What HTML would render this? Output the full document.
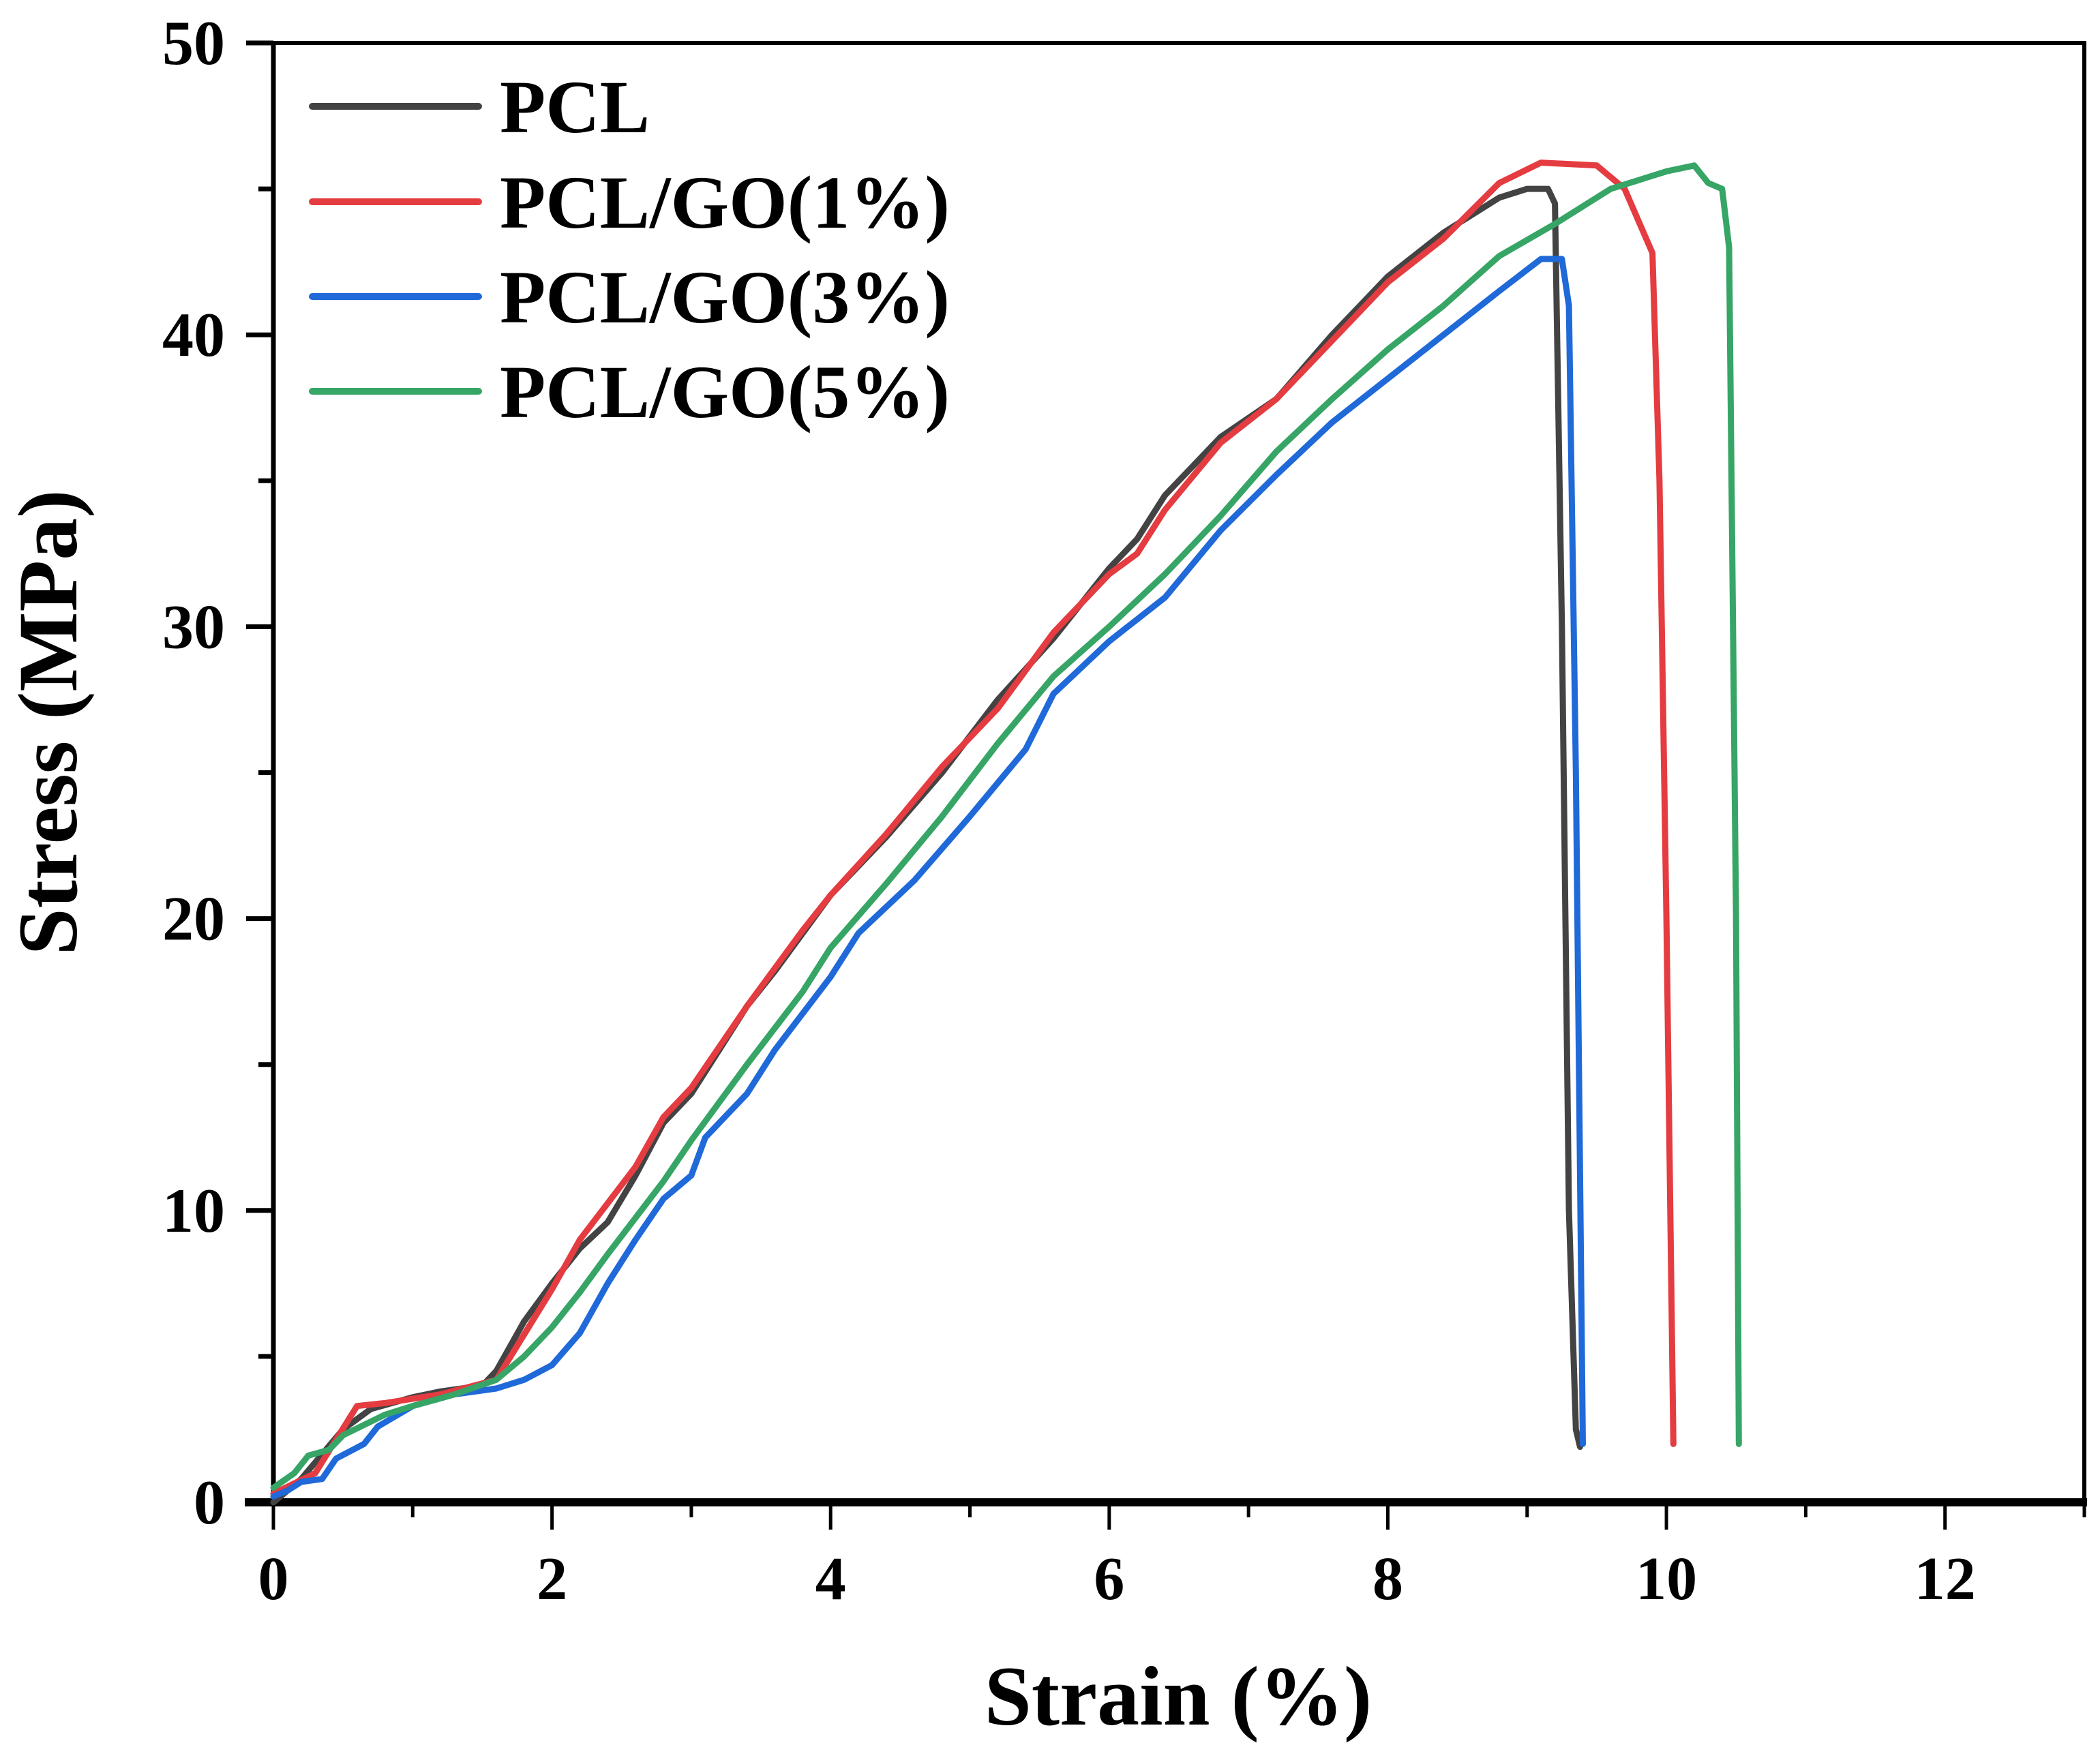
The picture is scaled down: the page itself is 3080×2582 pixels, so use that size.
<!DOCTYPE html>
<html><head><meta charset="utf-8"><style>
html,body{margin:0;padding:0;background:#fff;}
svg{display:block;font-family:"Liberation Serif","Times New Roman",serif;font-weight:bold;}
</style></head><body>
<svg id="chart" width="3080" height="2582" viewBox="0 0 3080 2582" xmlns="http://www.w3.org/2000/svg">
<g id="axes"></g>
<g id="series"></g>
<g id="legend"></g>
<text x="1728" y="2530" font-size="124" text-anchor="middle">Strain (%)</text>
<text x="0" y="0" font-size="124" text-anchor="middle" transform="translate(112,1060) rotate(-90)">Stress (MPa)</text>
</svg>
<script>
const xTicks = [0,2,4,6,8,10,12];
const yTicks = [0,10,20,30,40,50];
const seriesNames = ["PCL","PCL/GO(1%)","PCL/GO(3%)","PCL/GO(5%)"];
const seriesColors = ["#434343","#e43c40","#1f69d9","#36a566"];
const pclX = [0,0.2,0.5,0.7,1,1.2,1.5,1.6,1.8,2,2.2,2.4,2.6,2.8,3,3.2,3.4,3.6,3.8,4,4.4,4.8,5.2,5.6,6,6.2,6.4,6.8,7.2,7.6,8,8.4,8.8,9.0,9.15,9.2,9.25,9.3,9.35,9.38];
const pclY = [0,0.8,2.5,3.2,3.6,3.8,4.0,4.5,6.2,7.5,8.7,9.6,11.2,13,14,15.5,17,18.2,19.5,20.8,22.8,25,27.5,29.6,32,33,34.5,36.5,37.8,40,42,43.5,44.7,45.0,45.0,44.5,30,10,2.5,1.9];
const go1X = [0,0.3,0.6,0.8,1.2,1.6,2,2.2,2.6,2.8,3,3.4,3.8,4,4.4,4.8,5.2,5.6,6,6.2,6.4,6.8,7.2,7.6,8,8.4,8.8,9.1,9.5,9.7,9.9,9.95,10.0,10.05];
const go1Y = [0.3,1,3.3,3.4,3.7,4.2,7.3,9,11.5,13.2,14.2,17,19.6,20.8,22.9,25.2,27.2,29.8,31.8,32.5,34,36.3,37.8,39.8,41.8,43.3,45.2,45.9,45.8,45,42.8,35,20,2];
const go3X = [0,0.1,0.2,0.35,0.45,0.65,0.75,1,1.3,1.6,1.8,2,2.2,2.4,2.6,2.8,3,3.1,3.4,3.6,4,4.2,4.6,5,5.4,5.6,6,6.4,6.8,7.2,7.6,8,8.4,8.8,9.1,9.25,9.3,9.35,9.4];
const go3Y = [0.2,0.4,0.7,0.8,1.5,2,2.6,3.3,3.7,3.9,4.2,4.7,5.8,7.5,9,10.4,11.2,12.5,14,15.5,18,19.5,21.3,23.5,25.8,27.7,29.5,31,33.3,35.2,37,38.5,40,41.5,42.6,42.6,41,25,2];
const go5X = [0,0.15,0.25,0.4,0.5,0.8,1,1.3,1.6,1.8,2,2.2,2.4,2.8,3,3.4,3.8,4,4.4,4.8,5.2,5.6,6,6.4,6.8,7.2,7.6,8,8.4,8.8,9.2,9.6,9.8,10.0,10.2,10.3,10.4,10.45,10.5,10.52];
const go5Y = [0.5,1,1.6,1.8,2.3,3,3.3,3.7,4.2,5,6,7.2,8.5,11,12.4,15,17.5,19,21.2,23.5,26,28.3,30,31.8,33.8,36,37.8,39.5,41,42.7,43.8,45.0,45.3,45.6,45.8,45.2,45,43,20,2];

const NS = "http://www.w3.org/2000/svg";
const X0 = 401, X1 = 3057, XMAX = 13, Y0 = 2204, Y1 = 63, YMAX = 50;
function sx(v){ return X0 + v*(X1-X0)/XMAX; }
function sy(v){ return Y0 - v*(Y0-Y1)/YMAX; }
function mk(tag, attrs, parent){ const e=document.createElementNS(NS,tag); for(const k in attrs) e.setAttribute(k,attrs[k]); parent.appendChild(e); return e; }

const axes = document.getElementById('axes');
const frame = mk('rect',{x:X0,y:Y1,width:X1-X0,height:Y0-Y1,fill:'none',stroke:'#000','stroke-width':6},axes);


const xl = mk('line',{x1:X0-42,y1:Y0,x2:X1+4,y2:Y0,stroke:'#000','stroke-width':12},axes);


const yl = mk('line',{x1:X0,y1:Y1-3,x2:X0,y2:Y0,stroke:'#000','stroke-width':7},axes);


for(let v=0; v<=XMAX; v++){
  const major = v%2===0;
  const t = mk('line',{x1:sx(v),y1:Y0,x2:sx(v),y2:Y0+(major?40:22),stroke:'#000','stroke-width':5},axes);
  
  
}
xTicks.forEach(v=>{
  const t = mk('text',{x:sx(v),y:2346,'font-size':90,'text-anchor':'middle'},axes);
  t.textContent = v;
  
  
});
for(let v=0; v<=YMAX; v+=5){
  const major = v%10===0;
  const t = mk('line',{x1:X0-(major?40:22),y1:sy(v),x2:X0,y2:sy(v),stroke:'#000','stroke-width':7},axes);
  
  
}
yTicks.forEach(v=>{
  const t = mk('text',{x:330,y:sy(v)+31,'font-size':92,'text-anchor':'end'},axes);
  t.textContent = v;
  
  
});

const seriesG = document.getElementById('series');
const allX = [pclX,go1X,go3X,go5X], allY = [pclY,go1Y,go3Y,go5Y];
allX.forEach((xs,i)=>{
  const pts = xs.map((x,j)=>sx(x).toFixed(1)+','+sy(allY[i][j]).toFixed(1)).join(' ');
  const p = mk('polyline',{points:pts,fill:'none',stroke:seriesColors[i],'stroke-width':9,'stroke-linejoin':'round','stroke-linecap':'round'},seriesG);
  
  
});

const legend = document.getElementById('legend');
const ly = [156,296,435,574];
seriesNames.forEach((n,i)=>{
  const l = mk('line',{x1:458,y1:ly[i],x2:702,y2:ly[i],stroke:seriesColors[i],'stroke-width':10,'stroke-linecap':'round'},legend);
  
  
  const t = mk('text',{x:733,y:ly[i]+38,'font-size':110},legend);
  t.textContent = n;
  
  
});
</script>
</body></html>
